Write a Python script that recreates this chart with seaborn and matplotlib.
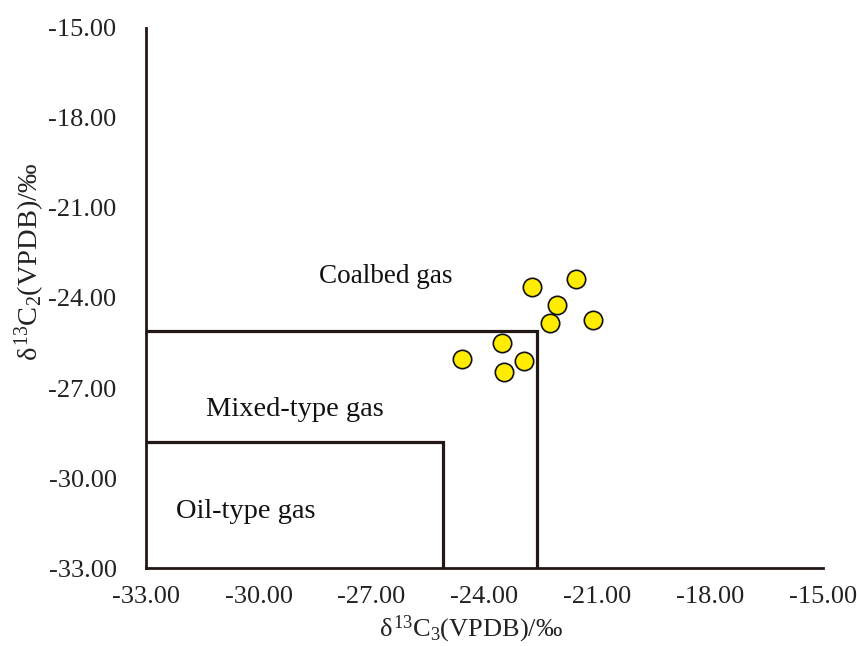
import matplotlib
matplotlib.use("Agg")
import matplotlib.pyplot as plt
import seaborn as sns
import pandas as pd

# Measured carbon isotope compositions
d13c3 = [-22.74, -21.56, -22.06, -21.12, -22.26, -23.54, -24.58, -22.94, -23.47]
d13c2 = [-23.62, -23.38, -24.23, -24.73, -24.84, -25.49, -26.03, -26.09, -26.46]

# Genetic-type boundaries (delta13C3, delta13C2)
mixed_bound_x = [-33.0, -22.6, -22.6]
mixed_bound_y = [-25.1, -25.1, -33.0]
oil_bound_x = [-33.0, -25.1, -25.1]
oil_bound_y = [-28.8, -28.8, -33.0]

region_labels = ["Coalbed gas", "Mixed-type gas", "Oil-type gas"]
region_label_x = [-28.4, -31.4, -32.2]
region_label_y = [-23.3, -27.7, -31.1]
region_label_size = [19.5, 20.5, 20.5]

ticks = [-33.0, -30.0, -27.0, -24.0, -21.0, -18.0, -15.0]

sns.set_style("white")
plt.rcParams["font.family"] = ["Liberation Serif", "DejaVu Serif"]
plt.rcParams["mathtext.fontset"] = "custom"
plt.rcParams["mathtext.rm"] = "Liberation Serif"
plt.rcParams["mathtext.it"] = "Liberation Serif"
plt.rcParams["mathtext.bf"] = "Liberation Serif"

ink = "#231815"

fig = plt.figure(figsize=(8.57, 6.46), dpi=100)
ax = fig.add_axes([0.170, 0.1207, 0.790, 0.836])

df = pd.DataFrame({"x": d13c3, "y": d13c2})
sns.scatterplot(data=df, x="x", y="y", ax=ax, s=175, color="#ffec00",
                edgecolor="#111111", linewidth=1.2, zorder=4, legend=False)

ax.plot(mixed_bound_x, mixed_bound_y, color=ink, lw=2.3, zorder=3, solid_joinstyle="miter")
ax.plot(oil_bound_x, oil_bound_y, color=ink, lw=2.3, zorder=3, solid_joinstyle="miter")

for lab, lx, ly, fs in zip(region_labels, region_label_x, region_label_y, region_label_size):
    ax.text(lx, ly, lab, fontsize=fs, color="#111111", va="center", ha="left")

ax.set_xlim(-33, -15)
ax.set_ylim(-33, -15)
ax.set_xticks(ticks)
ax.set_yticks(ticks)
ax.set_xticklabels([f"{t:.2f}" for t in ticks])
ax.set_yticklabels([f"{t:.2f}" for t in ticks])

for side in ["top", "right"]:
    ax.spines[side].set_visible(False)
for side in ["left", "bottom"]:
    ax.spines[side].set_linewidth(2.0)
    ax.spines[side].set_color(ink)

ax.tick_params(axis="both", direction="in", length=6, width=1.8, color=ink,
               labelsize=19, labelcolor="#222222")
ax.tick_params(axis="x", pad=13)
ax.tick_params(axis="y", pad=21)

ax.set_xlabel(r"$\delta^{13}$C$_3$(VPDB)/‰", fontsize=19, color="#222222")
ax.set_ylabel(r"$\delta^{13}$C$_2$(VPDB)/‰", fontsize=20.5, color="#222222")
ax.xaxis.set_label_coords((471 - 146) / 677, -(629 - 568) / 540, transform=ax.transAxes)
ax.yaxis.set_label_coords(-(146 - 30) / 677, (568 - 262) / 540, transform=ax.transAxes)
ax.xaxis.label.set_va("center")
ax.yaxis.label.set_va("center")

fig.savefig("out.png", dpi=100, facecolor="white")
